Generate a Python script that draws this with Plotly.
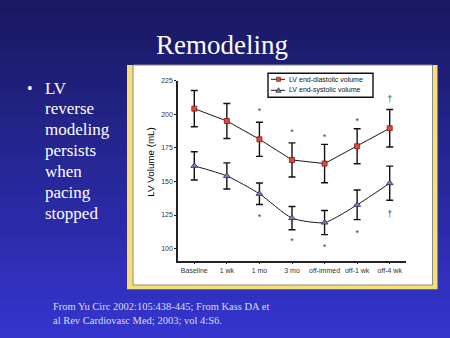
import plotly.graph_objects as go

# ---- data ----
categories = ["Baseline", "1 wk", "1 mo", "3 mo", "off-immed", "off-1 wk", "off-4 wk"]
edv = [204.2, 195.0, 181.4, 166.0, 163.3, 176.2, 189.6]
edv_err = [13.5, 13.0, 12.7, 12.7, 14.3, 13.0, 14.0]
esv = [161.6, 154.1, 140.8, 122.7, 119.4, 132.6, 148.7]
esv_err = [10.5, 9.7, 8.0, 8.7, 9.0, 11.0, 12.7]
edv_sig = ["", "", "*", "*", "*", "*", "†"]
edv_sig_y = [None, None, 202.0, 186.3, 182.8, 194.8, 210.5]
esv_sig = ["", "", "*", "*", "*", "*", "†"]
esv_sig_y = [None, None, 122.7, 104.9, 100.9, 111.0, 125.5]
y_ticks = [100, 125, 150, 175, 200, 225]
series_names = ["LV end-diastolic volume", "LV end-systolic volume"]
bullet_lines = ["LV", "reverse", "modeling", "persists", "when", "pacing", "stopped"]
footer_lines = ["From Yu Circ 2002:105:438-445; From Kass DA et",
                "al Rev Cardiovasc Med; 2003; vol 4:S6."]

W, H = 450, 338
EDV_FILL, EDV_EDGE = "#e8453c", "#7a1a14"
ESV_FILL, ESV_EDGE = "#7c80b8", "#2a2a55"


def px_x(p):
    return p / W


def px_y(p):
    return 1 - p / H


fig = go.Figure()

fig.add_trace(go.Scatter(
    x=categories, y=edv, name=series_names[0], showlegend=False,
    mode="lines+markers",
    line=dict(color="#1a1a1a", width=1),
    marker=dict(symbol="square", size=5, color=EDV_FILL, line=dict(color=EDV_EDGE, width=0.8)),
    error_y=dict(type="data", array=edv_err, color="#111111", thickness=1.4, width=3.5),
))
fig.add_trace(go.Scatter(
    x=categories, y=esv, name=series_names[1], showlegend=False,
    mode="lines+markers",
    line=dict(color="#1a1a1a", width=1, shape="spline", smoothing=0.6),
    marker=dict(symbol="triangle-up", size=6, color=ESV_FILL, line=dict(color=ESV_EDGE, width=0.8)),
    error_y=dict(type="data", array=esv_err, color="#111111", thickness=1.4, width=3.5),
))
fig.add_trace(go.Scatter(
    x=categories, y=edv_sig_y, text=edv_sig, mode="text", showlegend=False,
    textfont=dict(size=9, color="#444444", family="Liberation Sans"), hoverinfo="skip",
))
fig.add_trace(go.Scatter(
    x=categories, y=esv_sig_y, text=esv_sig, mode="text", showlegend=False,
    textfont=dict(size=9, color="#444444", family="Liberation Sans"), hoverinfo="skip",
))

# ---- slide background (vertical banded gradient) ----
shapes = []
n_bands = 26
top_c = (25, 25, 98)
bot_c = (52, 52, 204)
for i in range(n_bands):
    t = i / (n_bands - 1)
    c = tuple(int(round(a + (b - a) * t)) for a, b in zip(top_c, bot_c))
    shapes.append(dict(type="rect", xref="paper", yref="paper", layer="below",
                       x0=0, x1=1, y0=1 - i / n_bands, y1=1 - (i + 1) / n_bands - 0.002,
                       fillcolor="rgb(%d,%d,%d)" % c, line=dict(width=0)))
# yellow frame and white picture panel
shapes.append(dict(type="rect", xref="paper", yref="paper", layer="below",
                   x0=px_x(127), x1=px_x(437.5), y0=px_y(289.3), y1=px_y(65),
                   fillcolor="#f7df76", line=dict(width=0)))
shapes.append(dict(type="rect", xref="paper", yref="paper", layer="below",
                   x0=px_x(133), x1=px_x(432.5), y0=px_y(285), y1=px_y(65),
                   fillcolor="#ffffff", line=dict(color="#8a8a8a", width=1)))

# ---- legend box (drawn to match the compact original key) ----
annotations = []
LG_X0, LG_X1, LG_Y0, LG_Y1 = 268, 373, 73.3, 97.3
shapes.append(dict(type="rect", xref="paper", yref="paper", layer="above",
                   x0=px_x(LG_X0), x1=px_x(LG_X1), y0=px_y(LG_Y1), y1=px_y(LG_Y0),
                   fillcolor="#ffffff", line=dict(color="#111111", width=1.4)))
row_y = [79.3, 90.3]
for k, (name, ry) in enumerate(zip(series_names, row_y)):
    shapes.append(dict(type="line", xref="paper", yref="paper", layer="above",
                       x0=px_x(271), x1=px_x(285), y0=px_y(ry), y1=px_y(ry),
                       line=dict(color="#1a1a1a", width=1)))
    cx = 278.5
    if k == 0:
        shapes.append(dict(type="rect", xref="paper", yref="paper", layer="above",
                           x0=px_x(cx - 2), x1=px_x(cx + 2), y0=px_y(ry + 2), y1=px_y(ry - 2),
                           fillcolor=EDV_FILL, line=dict(color=EDV_EDGE, width=0.7)))
    else:
        path = "M %f,%f L %f,%f L %f,%f Z" % (
            px_x(cx - 2.6), px_y(ry + 2), px_x(cx + 2.6), px_y(ry + 2), px_x(cx), px_y(ry - 2.6))
        shapes.append(dict(type="path", xref="paper", yref="paper", layer="above", path=path,
                           fillcolor=ESV_FILL, line=dict(color=ESV_EDGE, width=0.7)))
    annotations.append(dict(text=name, x=px_x(287), y=px_y(ry), xref="paper", yref="paper",
                            showarrow=False, xanchor="left", yanchor="middle",
                            font=dict(family="Liberation Sans", size=7, color="#111111")))

annotations.append(dict(text="Remodeling", x=px_x(221.7), y=px_y(45), xref="paper", yref="paper",
                        showarrow=False, xanchor="center", yanchor="middle",
                        font=dict(family="Liberation Serif", size=27, color="#ffffff")))
annotations.append(dict(text="•", x=px_x(30), y=px_y(88), xref="paper", yref="paper",
                        showarrow=False, xanchor="center", yanchor="middle",
                        font=dict(family="Liberation Serif", size=16, color="#ffffff")))
for i, line in enumerate(bullet_lines):
    annotations.append(dict(text=line, x=px_x(43), y=px_y(88 + 20.9 * i), xref="paper", yref="paper",
                            showarrow=False, xanchor="left", yanchor="middle",
                            font=dict(family="Liberation Serif", size=17, color="#ffffff")))
for i, line in enumerate(footer_lines):
    annotations.append(dict(text=line, x=px_x(51), y=px_y(306 + 14 * i), xref="paper", yref="paper",
                            showarrow=False, xanchor="left", yanchor="middle",
                            font=dict(family="Liberation Serif", size=10.5, color="#dcdcf2")))
annotations.append(dict(text="LV Volume (mL)", x=px_x(149.7), y=px_y(162), xref="paper", yref="paper",
                        showarrow=False, textangle=-90, xanchor="center", yanchor="middle",
                        font=dict(family="Liberation Sans", size=9.8, color="#000000")))

fig.update_layout(
    width=W, height=H,
    margin=dict(l=0, r=0, t=0, b=0, pad=0),
    paper_bgcolor="#1a1a64",
    plot_bgcolor="rgba(0,0,0,0)",
    shapes=shapes,
    annotations=annotations,
    showlegend=False,
    xaxis=dict(domain=[px_x(178), px_x(406)], range=[-0.5, 6.5], type="category",
               showline=True, linecolor="#222222", linewidth=1.5, showgrid=False, zeroline=False,
               ticks="outside", ticklen=2, tickcolor="#222222", tickwidth=1,
               tickfont=dict(family="Liberation Sans", size=7, color="#333333"), automargin=False),
    yaxis=dict(domain=[px_y(260.7), px_y(80.7)], range=[91, 225],
               tickvals=y_ticks, showline=True, linecolor="#222222", linewidth=1.5,
               showgrid=False, zeroline=False,
               ticks="outside", ticklen=2, tickcolor="#222222", tickwidth=1,
               tickfont=dict(family="Liberation Sans", size=7, color="#333333"), automargin=False),
)

fig.write_html("out.html")
